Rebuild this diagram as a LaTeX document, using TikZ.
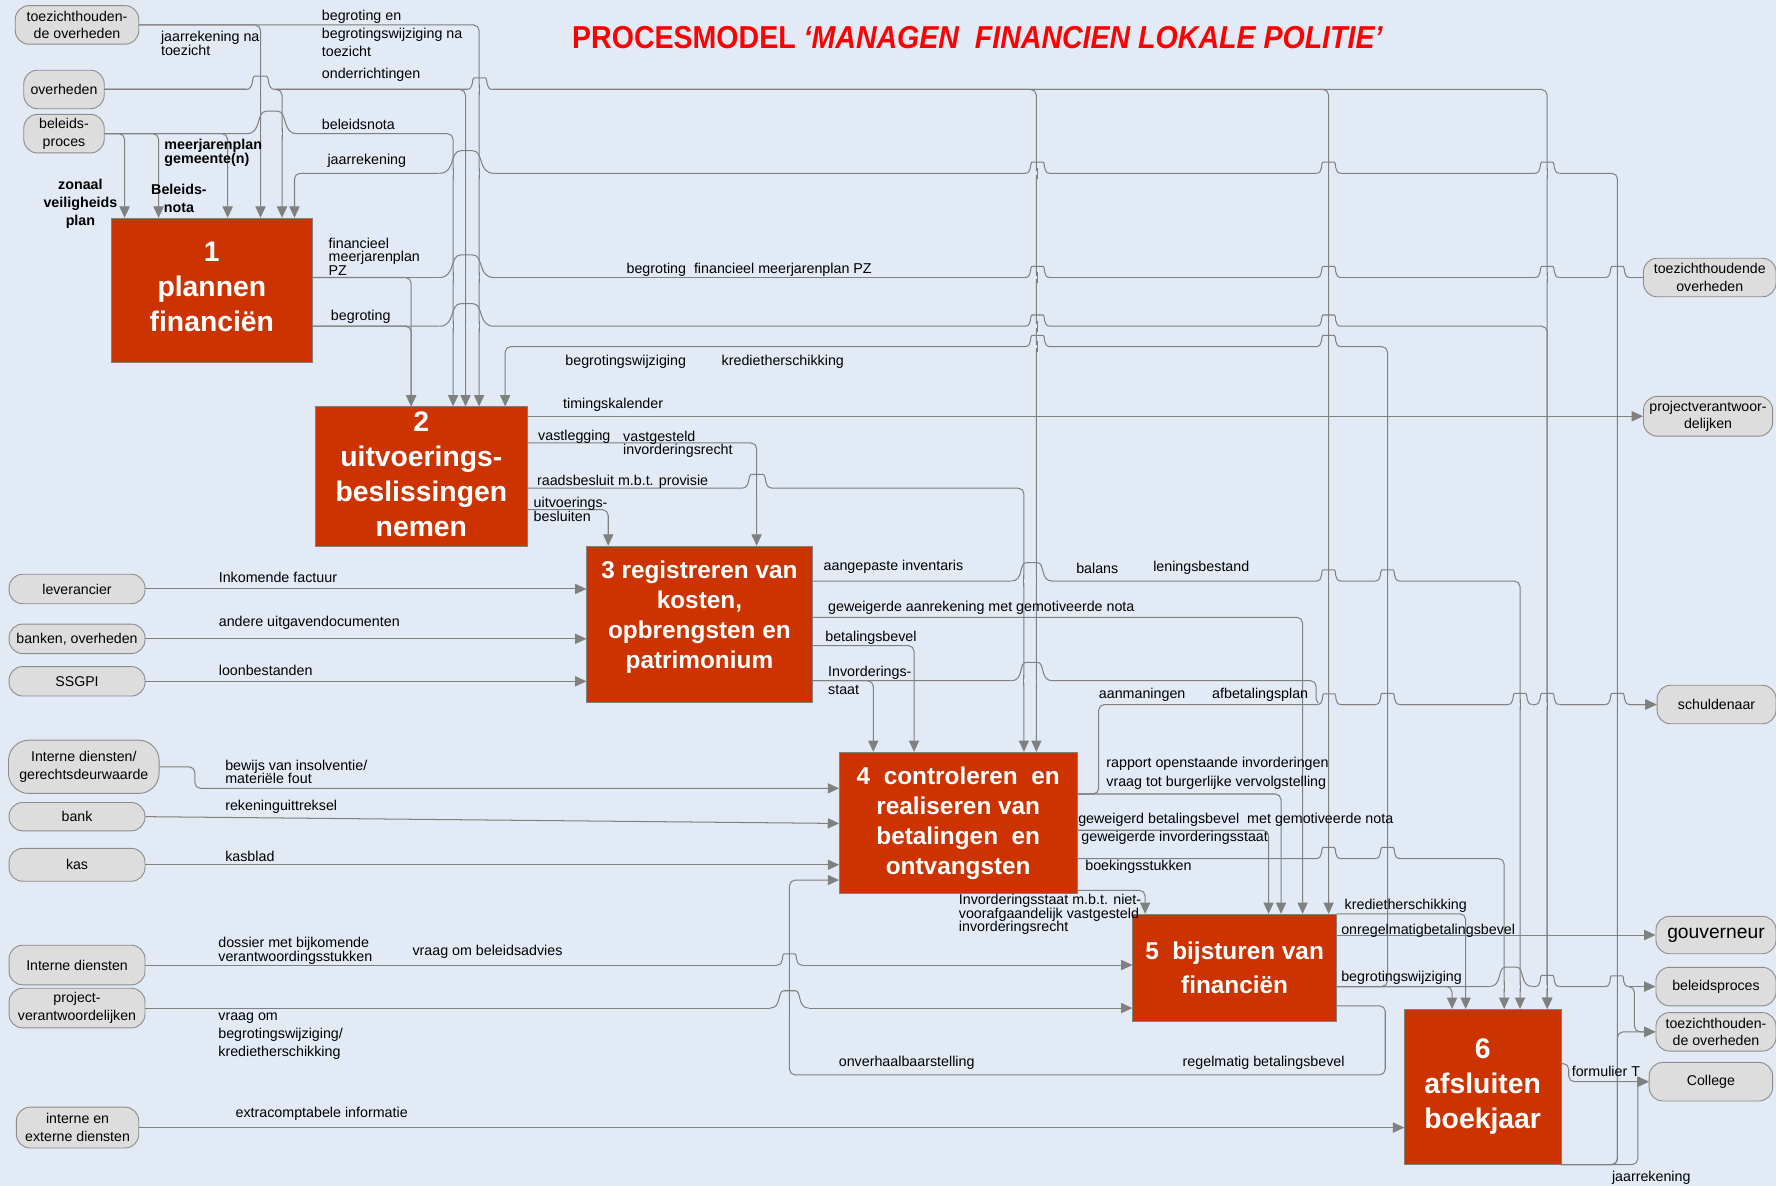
\documentclass[tikz,border=0pt]{standalone}
\usepackage{fontspec}
\setmainfont{Liberation Sans}
\usetikzlibrary{arrows.meta}
\definecolor{bgblue}{RGB}{226,234,245}
\definecolor{procred}{RGB}{204,51,0}
\definecolor{linegray}{RGB}{128,128,128}
\definecolor{termfill}{RGB}{221,221,221}
\definecolor{termedge}{RGB}{140,140,140}
\definecolor{titlered}{RGB}{255,0,0}
\newcommand{\lblfont}{\fontsize{12.6}{16}\selectfont}
\newcommand{\lbltight}{\fontsize{12.6}{11.8}\selectfont\lineskiplimit=-20pt}
\newcommand{\termfont}{\fontsize{12.5}{15.5}\selectfont}
\newcommand{\bigbox}{\fontsize{25}{31}\selectfont\bfseries}
\newcommand{\smallbox}{\fontsize{21.5}{26.5}\selectfont\bfseries}
% hop of a horizontal flow over crossing verticals: x1, x2, y, verticals
\newcommand{\hop}[4]{%
  \fill[bgblue] (#1,{#3-1.6}) rectangle (#2,{#3+1.6});
  \foreach \v in {#4} {\draw[flow] (\v,{#3-5}) -- (\v,{#3+5});}
  \pgfmathsetmacro\hw{#2-#1}
  \pgfmathsetmacro\hh{min(20,0.45*\hw)}
  \draw[flow] (#1,#3) .. controls ({#1+0.3*\hw},#3) and ({#1+0.18*\hw},{#3-\hh}) .. ({#1+0.5*\hw},{#3-\hh})
    .. controls ({#2-0.18*\hw},{#3-\hh}) and ({#2-0.3*\hw},#3) .. (#2,#3);
}

\begin{document}
\begin{tikzpicture}
[
x=1pt, y=-1pt,
flow/.style={draw=linegray, line width=0.9pt, rounded corners=5pt},
arr/.style={flow, -{Triangle[length=10pt,width=9pt]}},
proc/.style 2 args={draw=linegray, fill=procred, text=white, align=center, inner sep=0pt,
  minimum width=#1, minimum height=#2},
term/.style 2 args={draw=termedge, fill=termfill, line width=0.8pt, rounded corners=12pt,
  align=center, inner sep=1pt, font=\termfont, minimum width=#1, minimum height=#2},
lbl/.style={inner sep=0pt, anchor=west, align=left, font=\lblfont},
]
\useasboundingbox (0,0) rectangle (1568,1047);
\fill[bgblue] (0,0) rectangle (1568,1047);

%Place the nodes
\node[proc={177pt}{127pt}, font=\bigbox, text depth=6pt] (p1) at (187,256) {1\\plannen\\financiën};
\node[proc={187pt}{123pt}, font=\bigbox, text depth=4pt] (p2) at (372,420.5) {2\\uitvoerings-\\beslissingen\\nemen};
\node[proc={199pt}{138pt}, font=\smallbox, text depth=16.5pt] (p3) at (617.5,551) {3 registreren van\\kosten,\\opbrengsten en\\patrimonium};
\node[proc={210pt}{125pt}, font=\smallbox] (p4) at (846,726.5) {4\ \ controleren\ \ en\\realiseren van\\betalingen\ \ en\\ontvangsten};
\node[proc={180pt}{95pt}, font=\fontsize{21.5}{30}\selectfont\bfseries] (p5) at (1090,854.5) {5\ \ bijsturen van\\financiën};
\node[proc={138pt}{137pt}, font=\bigbox] (p6) at (1309,959.5) {6\\afsluiten\\boekjaar};

\node[term={109pt}{34pt}] (tzL) at (68,22) {toezichthouden-\\de overheden};
\node[term={71pt}{34pt}] (ovh) at (56.5,79) {overheden};
\node[term={71pt}{34pt}] (bel) at (56.5,118) {beleids-\\proces};
\node[term={120pt}{26pt}] (lev) at (68,520) {leverancier};
\node[term={120pt}{26pt}] (bnk) at (68,564) {banken, overheden};
\node[term={120pt}{26pt}] (ssgpi) at (68,601.5) {SSGPI};
\node[term={133pt}{47pt}, rounded corners=18pt] (ideu) at (74,677) {Interne diensten/\\gerechtsdeurwaarde};
\node[term={120pt}{25pt}] (bank) at (68,721) {bank};
\node[term={120pt}{29pt}] (kas) at (68,763.5) {kas};
\node[term={120pt}{35pt}] (intd) at (68,852) {Interne diensten};
\node[term={120pt}{35pt}] (prjL) at (68,890) {project-\\verantwoordelijken};
\node[term={108pt}{36pt}] (iex) at (68.5,995.5) {interne en\\externe diensten};
\node[term={117pt}{34pt}] (tzR1) at (1509.5,245) {toezichthoudende\\overheden};
\node[term={114pt}{35pt}] (prjR) at (1508,367.5) {projectverantwoor-\\delijken};
\node[term={105pt}{34pt}] (schuld) at (1515.5,622) {schuldenaar};
\node[term={106pt}{33pt}, font=\fontsize{17}{20}\selectfont] (gouv) at (1515,825.5) {gouverneur};
\node[term={106pt}{34pt}] (belR) at (1515,871) {beleidsproces};
\node[term={106pt}{34pt}] (tzR2) at (1515,911) {toezichthouden-\\de overheden};
\node[term={109pt}{34pt}] (coll) at (1510.5,955) {College};

%Draw the connections
\draw[arr] (tzL.east) -| (230,0 |- p1.north);
\draw[arr] (tzL.east) -| (423,0 |- p2.north);
\draw[arr] (ovh.east) -| (249,0 |- p1.north);
\draw[arr] (ovh.east) -| (411,0 |- p2.north);
\draw[arr] (ovh.east) -| (915,0 |- p4.north);
\draw[arr] (ovh.east) -| (1173,0 |- p5.north);
\draw[arr] (ovh.east) -| (1366,0 |- p6.north);
\draw[arr] (bel.east) -| (110,0 |- p1.north);
\draw[arr] (bel.east) -| (140,0 |- p1.north);
\draw[arr] (bel.east) -| (201,0 |- p1.north);
\draw[arr] (bel.east) -| (400,0 |- p2.north);
\draw[arr] (p6.south east) -| (1428,153) -| (260,0 |- p1.north);
\draw[arr] (p6.south east) -| (1428,0 |- tzR2.west) -- (tzR2.west);
\draw[arr] (p6.south east) -| (1446,0 |- coll.west) -- (coll.west);
\draw[arr] (p6.east |- 0,939) -- (1385,939) |- (coll.west);
\draw[flow] (p1.east |- tzR1.west) -- (tzR1.west);
\draw[arr] (p1.east |- tzR1.west) -| (363,0 |- p2.north);
\draw[arr] (p1.east |- 0,288) -| (363,0 |- p2.north);
\draw[arr] (p1.east |- 0,288) -| (1366,0 |- p6.north);
\draw[arr] (p5.east |- 0,871) -| (1225,306) -| (446,0 |- p2.north);
\draw[arr] (p5.east |- 0,871) -| (1282,0 |- p6.north);
\draw[arr] (p5.east |- 0,871) -- (belR.west);
\draw[arr] (p5.east |- 0,871) -| (1443,0 |- tzR2.west) -- (tzR2.west);
\draw[arr] (p2.east |- prjR.west) -- (prjR.west);
\draw[arr] (p2.east |- 0,391) -| (668,0 |- p3.north);
\draw[arr] (p2.east |- 0,431) -| (904,0 |- p4.north);
\draw[arr] (p2.east |- 0,450) -| (537,0 |- p3.north);
\draw[arr] (lev.east) -- (lev.east -| p3.west);
\draw[arr] (bnk.east) -- (bnk.east -| p3.west);
\draw[arr] (ssgpi.east) -- (ssgpi.east -| p3.west);
\draw[arr] (p3.east |- 0,513) -| (1342,0 |- p6.north);
\draw[arr] (p3.east |- 0,545) -| (1150,0 |- p5.north);
\draw[arr] (p3.east |- 0,570) -| (807,0 |- p4.north);
\draw[arr] (p3.east |- 0,601) -| (771,0 |- p4.north);
\draw[arr] (p3.east |- 0,601) -| (1162,0 |- schuld.west) -- (schuld.west);
\draw[arr] (p4.east |- 0,701) -| (970,0 |- schuld.west) -- (schuld.west);
\draw[arr] (p4.east |- 0,701) -| (1131,0 |- p5.north);
\draw[arr] (p4.east |- 0,733) -| (1120,0 |- p5.north);
\draw[arr] (p4.east |- 0,758) -| (1328,0 |- p6.north);
\draw[arr] (p4.east |- 0,786) -| (1011,0 |- p5.north);
\draw[arr] (ideu.east) -- (172,0 |- ideu.east) |- (p4.west |- 0,696);
\draw[arr] (bank.east) -- (p4.west |- 0,727);
\draw[arr] (kas.east) -- (kas.east -| p4.west);
\draw[arr] (p5.east |- 0,888) -| (1223,949) -| (697,777) -- (p4.west |- 0,777);
\draw[arr] (intd.east) -- (intd.east -| p5.west);
\draw[arr] (prjL.east) -- (prjL.east -| p5.west);
\draw[arr] (iex.east) -- (iex.east -| p6.west);
\draw[arr] (p5.north east) -| (1294,0 |- p6.north);
\draw[arr] (p5.east |- gouv.west) -- (gouv.west);

%Line jumps
\hop{217}{243}{79}{230} \hop{412}{435}{79}{423}
\hop{218}{262}{118}{230,249}
\hop{388}{436}{153}{400,411,423} \hop{905}{927}{153}{916} \hop{1162}{1184}{153}{1173} \hop{1355}{1377}{153}{1366}
\hop{388}{436}{245}{400,411,423} \hop{905}{927}{245}{916} \hop{1162}{1184}{245}{1173} \hop{1355}{1377}{245}{1366} \hop{1417}{1439}{245}{1428}
\hop{388}{436}{288}{400,411,423} \hop{905}{927}{288}{916} \hop{1162}{1184}{288}{1173}
\hop{905}{927}{306}{916} \hop{1162}{1184}{306}{1173}
\hop{655}{682}{431}{668}
\hop{893}{929}{513}{904,915} \hop{1162}{1184}{513}{1173} \hop{1214}{1236}{513}{1225}
\hop{893}{929}{601}{904,915}
\hop{1163}{1184}{622}{1173} \hop{1214}{1236}{622}{1225} \hop{1331}{1353}{622}{1342} \hop{1355}{1377}{622}{1366} \hop{1417}{1439}{622}{1428}
\hop{1162}{1184}{758}{1173} \hop{1214}{1236}{758}{1225}
\hop{686}{708}{852}{697} \hop{680}{714}{890}{697}
\hop{1315}{1353}{871}{1328,1342} \hop{1355}{1377}{871}{1366} \hop{1417}{1438}{871}{1428}

%Labels
\node[font=\fontsize{28}{30}\selectfont\bfseries, text=titlered] (title) at (863,33)
  {\scalebox{0.9}[1]{PROCESMODEL \textit{‘MANAGEN\ \ FINANCIEN LOKALE POLITIE’}}};
\node[lbl, font=\lbltight] at (142,38.2) {jaarrekening na\\toezicht};
\node[lbl] at (284,29.2) {begroting en\\begrotingswijziging na\\toezicht};
\node[lbl] at (284,66) {onderrichtingen};
\node[lbl] at (284,110) {beleidsnota};
\node[lbl] at (289,142) {jaarrekening};
\node[lbl, font=\lbltight\bfseries] at (145,135) {meerjarenplan\\gemeente(n)};
\node[lbl, anchor=center, align=center, font=\fontsize{12.6}{16}\selectfont\bfseries] at (71,180) {zonaal\\veiligheids\\plan};
\node[lbl, anchor=center, align=center, font=\fontsize{12.6}{16}\selectfont\bfseries] at (158,175) {Beleids-\\nota};
\node[lbl, font=\lbltight] at (290,226.5) {financieel\\meerjarenplan\\PZ};
\node[lbl] at (292,280) {begroting};
\node[lbl] at (553,238) {begroting\ \ financieel meerjarenplan PZ};
\node[lbl] at (499,319) {begrotingswijziging};
\node[lbl] at (637,319) {kredietherschikking};
\node[lbl] at (497,357) {timingskalender};
\node[lbl] at (475,386) {vastlegging};
\node[lbl, font=\lbltight] at (550,392) {vastgesteld\\invorderingsrecht};
\node[lbl] at (474,425) {raadsbesluit m.b.t. provisie};
\node[lbl, font=\lbltight] at (471,449.7) {uitvoerings-\\besluiten};
\node[lbl] at (193,509.5) {Inkomende factuur};
\node[lbl] at (193,550) {andere uitgavendocumenten};
\node[lbl] at (193,592) {loonbestanden};
\node[lbl] at (727,500) {aangepaste inventaris};
\node[lbl] at (950,501.6) {balans};
\node[lbl] at (1018,501.6) {leningsbestand};
\node[lbl] at (731,537) {geweigerde aanrekening met gemotiveerde nota};
\node[lbl] at (728.5,563.4) {betalingsbevel};
\node[lbl] at (731,601) {Invorderings-\\staat};
\node[lbl] at (970,613) {aanmaningen};
\node[lbl] at (1070,613) {afbetalingsplan};
\node[lbl, font=\lbltight] at (198.7,681.7) {bewijs van insolventie/\\materiële fout};
\node[lbl] at (198.7,712) {rekeninguittreksel};
\node[lbl] at (198.7,756) {kasblad};
\node[lbl] at (976.6,674.5) {rapport openstaande invorderingen};
\node[lbl] at (976.6,691) {vraag tot burgerlijke vervolgstelling};
\node[lbl] at (951.8,724) {geweigerd betalingsbevel\ \ met gemotiveerde nota};
\node[lbl] at (954.6,740) {geweigerde invorderingsstaat};
\node[lbl] at (958,765) {boekingsstukken};
\node[lbl, font=\lbltight] at (846.4,807.5) {Invorderingsstaat m.b.t. niet-\\voorafgaandelijk vastgesteld\\invorderingsrecht};
\node[lbl] at (1187,799.6) {kredietherschikking};
\node[lbl] at (1184,821.7) {onregelmatigbetalingsbevel};
\node[lbl] at (1184,863.5) {begrotingswijziging};
\node[lbl, font=\lbltight] at (192.6,839.6) {dossier met bijkomende\\verantwoordingsstukken};
\node[lbl] at (364,840.5) {vraag om beleidsadvies};
\node[lbl] at (192.6,914.6) {vraag om\\begrotingswijziging/\\kredietherschikking};
\node[lbl] at (740.4,938.7) {onverhaalbaarstelling};
\node[lbl] at (1044,938.7) {regelmatig betalingsbevel};
\node[lbl] at (207.8,983.5) {extracomptabele informatie};
\node[lbl] at (1387.5,946) {formulier T};
\node[lbl] at (1423,1039.7) {jaarrekening};
\end{tikzpicture}
\end{document}
